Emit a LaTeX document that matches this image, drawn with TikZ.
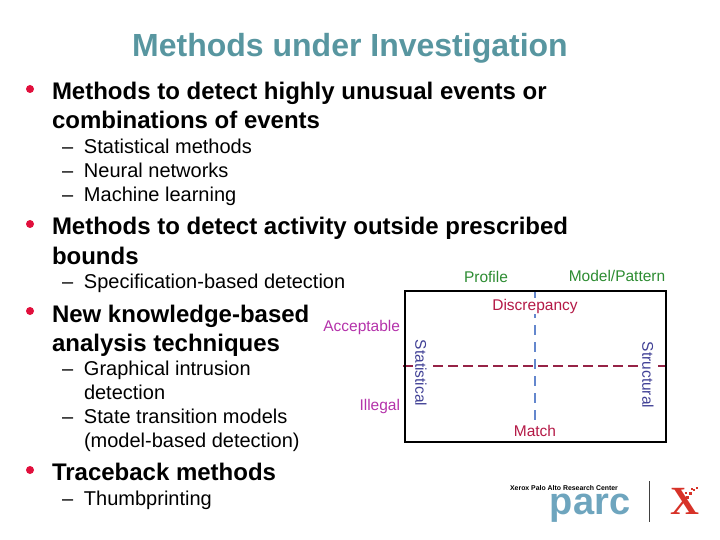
\documentclass[tikz,border=0pt]{standalone}
\usepackage{fontspec}
\setmainfont{Liberation Sans}
\newfontfamily\serifx{Liberation Serif}
\definecolor{titlecol}{RGB}{88,150,160}
\definecolor{greenlab}{RGB}{45,140,50}
\definecolor{redlab}{RGB}{180,25,70}
\definecolor{maglab}{RGB}{180,50,170}
\definecolor{bluelab}{RGB}{65,65,150}
\definecolor{hdash}{RGB}{150,35,70}
\definecolor{vdash}{RGB}{100,135,205}
\definecolor{parcblue}{RGB}{110,165,190}
\definecolor{xred}{RGB}{215,50,40}
\definecolor{bulletred}{RGB}{225,15,60}
\newcommand{\dashitem}[1]{\makebox[22pt][l]{–}#1}
\tikzset{
  px/.style={inner sep=0pt,outer sep=0pt},
  title/.style={px,font=\fontsize{32}{32}\selectfont\bfseries,text=titlecol},
  lead/.style={px,anchor=base west,font=\fontsize{24}{24}\selectfont\bfseries},
  sub/.style={px,anchor=base west,font=\fontsize{20}{20}\selectfont},
  dot/.style={circle,fill=bulletred,minimum size=8pt,inner sep=0pt,outer sep=0pt},
  lab/.style={px,font=\fontsize{15.5}{15.5}\selectfont},
  wlab/.style={lab,fill=white,inner sep=1pt},
  pixdot/.style={fill=xred,draw=none},
}
\begin{document}
\begin{tikzpicture}[x=1pt,y=-1pt]
\useasboundingbox (0,0) rectangle (720,540);
\node[title] (t) at (350,48) {Methods under Investigation};
\node[dot] (d1) at (30,89) {};
\node[dot] (d2) at (30,224) {};
\node[dot] (d3) at (30,311) {};
\node[dot] (d4) at (30,470) {};
\node[lead] (a1) at (52,100) {Methods to detect highly unusual events or};
\node[lead] (a2) at (52,129) {combinations of events};
\node[sub] (s1) at (62,153.5) {\dashitem{Statistical methods}};
\node[sub] (s2) at (62,177.5) {\dashitem{Neural networks}};
\node[sub] (s3) at (62,201.5) {\dashitem{Machine learning}};
\node[lead] (b1) at (52,235) {Methods to detect activity outside prescribed};
\node[lead] (b2) at (52,264) {bounds};
\node[sub] (s4) at (62,288.5) {\dashitem{Specification-based detection}};
\node[lead] (c1) at (52,322) {New knowledge-based};
\node[lead] (c2) at (52,351) {analysis techniques};
\node[sub] (s5) at (62,375.5) {\dashitem{Graphical intrusion}};
\node[sub] (s5b) at (84,399.5) {detection};
\node[sub] (s6) at (62,423.5) {\dashitem{State transition models}};
\node[sub] (s6b) at (84,447.5) {(model-based detection)};
\node[lead] (e1) at (52,480) {Traceback methods};
\node[sub] (s7) at (62,505.5) {\dashitem{Thumbprinting}};
% matrix
\coordinate (bxa) at (405,291);
\coordinate (bxb) at (666,442);
\coordinate (hl) at (403,366);
\coordinate (hr) at (665,366);
\coordinate (vt) at (535,291);
\coordinate (vb) at (535,422);
\draw[vdash,line width=1.3pt,dash pattern=on 10pt off 7pt] (vt) -- (vb);
\draw[hdash,line width=1.3pt,dash pattern=on 10pt off 5pt] (hl) -- (hr);
\draw[black,line width=1.4pt] (bxa) rectangle (bxb);
\node[lab,text=greenlab] (p) at (486,277) {Profile};
\node[lab,text=greenlab] (m) at (617,276) {Model/Pattern};
\node[wlab,text=redlab] (dc) at (535,306) {Discrepancy};
\node[lab,text=redlab] (mt) at (535,431) {Match};
\node[lab,text=maglab,anchor=east] (ac) at (400,327) {Acceptable};
\node[lab,text=maglab,anchor=east] (il) at (400,406) {Illegal};
\node[wlab,text=bluelab,rotate=-90] (st) at (421,373) {Statistical};
\node[wlab,text=bluelab,rotate=-90] (sr) at (648,375) {Structural};
% logo
\node[px,font=\fontsize{38}{38}\selectfont\bfseries,text=parcblue,anchor=base] (pc) at (590,514) {parc};
\node[px,font=\fontsize{6.9}{6.9}\selectfont\bfseries] (x) at (564,488) {Xerox Palo Alto Research Center};
\coordinate (sa) at (649,481);
\coordinate (sb) at (649,522);
\draw[black!75,line width=1pt] (sa) -- (sb);
\node[px,font=\fontsize{40}{40}\selectfont\bfseries\serifx,text=xred,anchor=base] (xx) at (685,514) {X};
\fill[white] (686,485) rectangle (702,497);
\fill[pixdot] (686,496) rectangle (689,499);
\fill[pixdot] (689,492) rectangle (692,495);
\fill[pixdot] (685,492) rectangle (687,494);
\fill[pixdot] (693,489) rectangle (695,491);
\fill[pixdot] (696,487) rectangle (698,489);
\fill[pixdot] (691,488) rectangle (693,490);
\end{tikzpicture}
\end{document}
